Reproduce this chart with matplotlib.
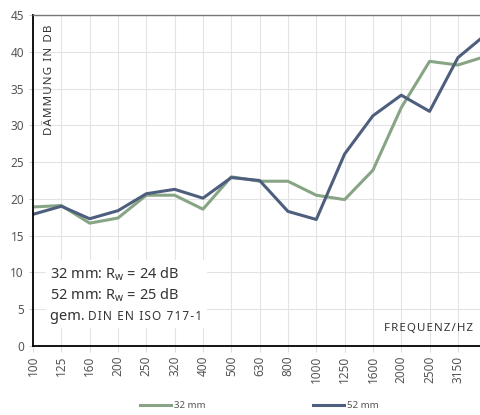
import numpy as np
import matplotlib
matplotlib.use('Agg')
import matplotlib.pyplot as plt

plt.rcParams['font.family'] = ['Noto Sans', 'DejaVu Sans']
plt.rcParams['mathtext.fontset'] = 'custom'
plt.rcParams['mathtext.rm'] = 'Noto Sans'
plt.rcParams['mathtext.it'] = 'Noto Sans'

# Daten
frequenzen = ['100', '125', '160', '200', '250', '320', '400', '500', '630', '800',
              '1000', '1250', '1600', '2000', '2500', '3150', '4000']
werte_32mm = [18.9, 19.1, 16.7, 17.4, 20.5, 20.5, 18.6, 23.0, 22.4, 22.4,
              20.5, 19.9, 23.9, 32.4, 38.7, 38.2, 39.4]
werte_52mm = [17.9, 19.0, 17.3, 18.4, 20.7, 21.3, 20.1, 22.9, 22.5, 18.3,
              17.2, 26.1, 31.3, 34.1, 31.9, 39.2, 42.4]

gruen = '#87a585'
blau = '#4e5f7e'
text_farbe = '#333333'


def gesperrt(s):
    # Buchstaben mit Haarspatium sperren
    return '\u200a'.join(s)


fig = plt.figure(figsize=(4.8, 4.15), dpi=100)
ax = fig.add_axes([33/480, 1-346/415, 1-33/480, (346-15)/415])

x = np.arange(len(frequenzen))
ax.plot(x, werte_32mm, color=gruen, lw=2.2, label='32 mm')
ax.plot(x, werte_52mm, color=blau, lw=2.2, label='52 mm')

ax.set_xlim(0, 15.78)
ax.set_ylim(0, 45)
ax.set_xticks(x[:16])
ax.set_xticklabels(frequenzen[:16], rotation=90, fontsize=8.5, color='#555555')
ax.set_yticks(np.arange(0, 46, 5))
ax.tick_params(axis='y', labelsize=8.5, labelcolor='#555555', length=3, color='#cccccc')
ax.tick_params(axis='x', length=4, color='#dddddd', pad=3)
ax.grid(True, color='#e3e3e3', lw=0.8)
ax.set_axisbelow(True)

ax.spines['right'].set_visible(False)
ax.spines['top'].set_color('#777777')
ax.spines['top'].set_linewidth(1.0)
ax.spines['left'].set_color('black')
ax.spines['left'].set_linewidth(1.3)
ax.spines['bottom'].set_color('black')
ax.spines['bottom'].set_linewidth(1.3)

# Achsentitel innerhalb der Grafik
ax.text(0.038, 0.97, gesperrt('DÄMMUNG IN DB'), transform=ax.transAxes, rotation=90,
        ha='center', va='top', fontsize=8.3, color=text_farbe)
ax.text(0.985, 0.035, gesperrt('FREQUENZ/HZ'), transform=ax.transAxes,
        ha='right', va='bottom', fontsize=8.3, color=text_farbe)

# Textbox mit Kennwerten
ax.add_patch(plt.Rectangle((0.03, 0.055), 0.36, 0.205, transform=ax.transAxes,
                           facecolor='white', edgecolor='none', zorder=3))
ax.text(0.038, 0.217, '32 mm: R$_\\mathrm{w}$ = 24 dB', transform=ax.transAxes,
        fontsize=10.5, color=text_farbe, va='center', zorder=4)
ax.text(0.038, 0.154, '52 mm: R$_\\mathrm{w}$ = 25 dB', transform=ax.transAxes,
        fontsize=10.5, color=text_farbe, va='center', zorder=4)
t = ax.text(0.038, 0.090, 'gem. ', transform=ax.transAxes,
            fontsize=10.5, color=text_farbe, va='center', zorder=4)
ax.annotate(gesperrt('DIN EN ISO 717-1'), xy=(1, 0), xycoords=t,
            xytext=(0, 2.8), textcoords='offset points', va='baseline',
            fontsize=8.5, color=text_farbe, zorder=4)

fig.legend(loc='lower center', bbox_to_anchor=(0.54, -0.01), ncol=2, frameon=False,
           fontsize=7, handlelength=3.2, handletextpad=0.3, columnspacing=11,
           labelcolor='#555555')

fig.savefig('out.png', dpi=100)
